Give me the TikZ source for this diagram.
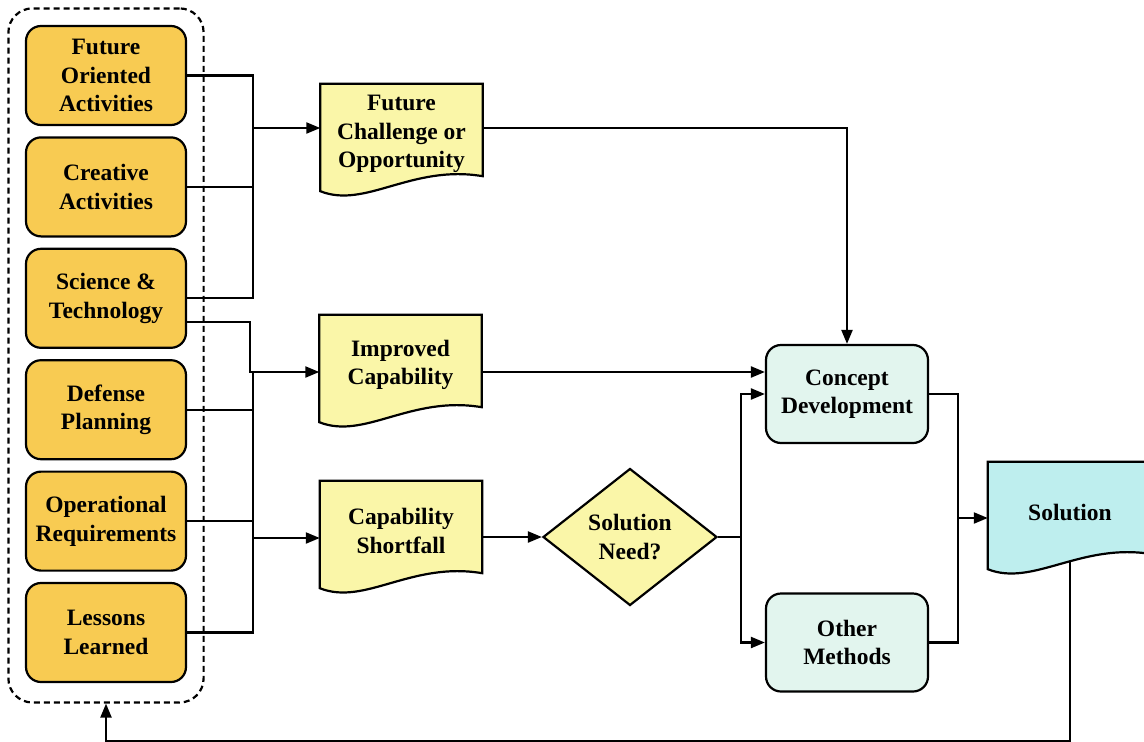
\documentclass[tikz,border=0pt]{standalone}
\usepackage{fontspec}
\setmainfont{Liberation Serif}
\usetikzlibrary{positioning,arrows.meta,shapes.geometric,fit,backgrounds}

\definecolor{srcorange}{RGB}{248,203,82}
\definecolor{docyellow}{RGB}{250,246,168}
\definecolor{procmint}{RGB}{226,245,238}
\definecolor{solcyan}{RGB}{190,238,238}

\tikzset{
  lbl/.style={font=\fontsize{23.5}{28.5}\selectfont\bfseries, align=center, inner sep=0pt},
  source/.style={lbl, draw, line width=2.2pt, rounded corners=15pt, fill=srcorange,
    minimum width=160pt, minimum height=99pt},
  process/.style={lbl, draw, line width=2.2pt, rounded corners=15pt, fill=procmint,
    minimum width=162pt, minimum height=98pt},
  docnode/.style={lbl, minimum width=162pt, minimum height=100pt},
  decision/.style={lbl, diamond, aspect=1.27, draw, line width=2.2pt, fill=docyellow,
    minimum width=174pt, minimum height=137pt},
  group/.style={draw, line width=2.2pt, dash pattern=on 6pt off 4pt, rounded corners=24pt},
  link/.style={line width=2.2pt},
  arr/.style={link, -{Triangle[length=14pt,width=11pt]}}
}

\begin{document}
\begin{tikzpicture}[x=1pt, y=-1pt, node distance=111.4pt, on grid]
    \useasboundingbox (0,0) rectangle (1144,742);
    \clip (0,0) rectangle (1144,742);

    % inputs
    \node[source] (foa) at (106,75.5) {Future\\Oriented\\Activities};
    \node[source, below=of foa] (cra) {Creative\\Activities};
    \node[source, below=of cra] (sci) {Science \&\\Technology};
    \node[source, below=of sci] (def) {Defense\\Planning};
    \node[source, below=of def] (opr) {Operational\\Requirements};
    \node[source, below=of opr] (ll) {Lessons\\Learned};
    \coordinate (grpfoot) at (106,686);
    \node[group, fit=(foa)(ll)(grpfoot), inner sep=16.5pt] (grp) {};

    \node[docnode] (fco) at (401.5,134) {Future\\Challenge or\\Opportunity};
    \node[docnode] (imp) at (400.5,365) {Improved\\Capability};
    \node[docnode] (csf) at (401,531) {Capability\\Shortfall};
    \node[decision] (need) at (630,537) {Solution\\Need?};
    \node[process] (cd) at (847,394) {Concept\\Development};
    \node[process] (om) at (847,642.5) {Other\\Methods};
    \node[docnode, minimum width=164pt] (sol) at (1070,512) {Solution};

    \coordinate (bus1) at (253,128);
    \coordinate (bus2) at (253,372);
    \coordinate (bus3) at (253,538);
    \coordinate (split) at (741,537);
    \coordinate (merge) at (958,518);

    \begin{scope}[on background layer]
        \clip (0,0) rectangle (1144,742);
        % feedback to the inputs
        \draw[arr] (sol.south) |- ([yshift=-37pt]grp.south) -- (grp.south);
        \foreach \n/\col in {fco/docyellow, imp/docyellow, csf/docyellow, sol/solcyan}
            \draw[link, fill=\col] (\n.north west) -- (\n.north east) -- ([yshift=8pt]\n.south east)
                .. controls ([xshift=-71pt,yshift=20pt]\n.south east) and ([xshift=45pt,yshift=-25pt]\n.south west)
                .. ([yshift=-7pt]\n.south west) -- cycle;
    \end{scope}

    \draw[link] (foa.east) -| (bus1);
    \draw[link] (sci.east) -| (bus1);
    \draw[link] (cra.east) -- (cra.east -| bus1);
    \draw[arr] (bus1) -- (bus1 -| fco.west);

    \draw[link] ([yshift=-24pt]sci.east) -| ([xshift=-3pt]bus2) -- (bus2);
    \draw[link] (ll.east) -| (bus2);
    \draw[link] (def.east) -- (def.east -| bus2);
    \draw[link] (opr.east) -- (opr.east -| bus2);
    \draw[arr] (bus2) -- (bus2 -| imp.west);
    \draw[arr] (bus3) -- (bus3 -| csf.west);

    \draw[arr] (fco.east |- bus1) -| (cd.north);
    \draw[arr] (imp.east |- bus2) -- (bus2 -| cd.west);
    \draw[arr] (need.west -| csf.east) -- (need.west);

    \draw[link] (need.east) -- (split);
    \draw[arr] (split) |- (cd.west);
    \draw[arr] (split) |- (om.west);
    \draw[link] (cd.east) -| (merge);
    \draw[link] (om.east) -| (merge);
    \draw[arr] (merge) -- (merge -| sol.west);
\end{tikzpicture}
\end{document}
